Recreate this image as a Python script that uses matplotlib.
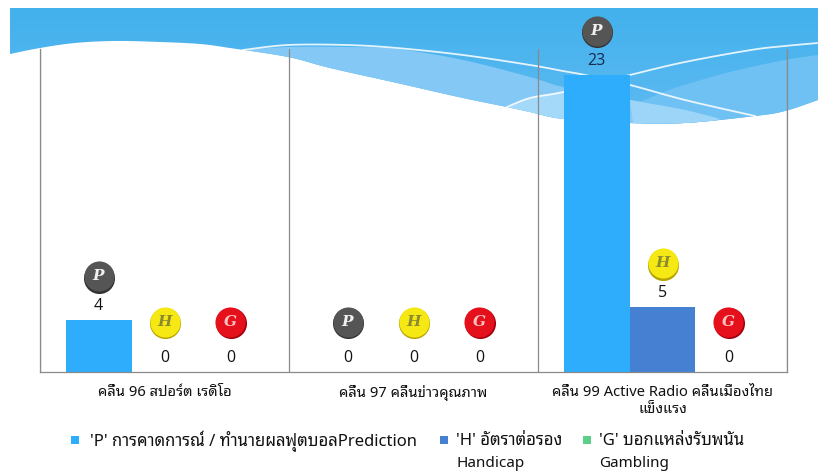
import matplotlib
matplotlib.use("Agg")
import matplotlib.pyplot as plt
import numpy as np
from matplotlib.patches import Polygon, Rectangle
from matplotlib.transforms import ScaledTranslation

plt.rcParams["font.family"] = ["Noto Sans Thai Looped", "Noto Sans Thai", "Noto Sans", "DejaVu Sans"]

W, H = 818, 473

stations = ["คลื่น 96 สปอร์ต เรดิโอ", "คลื่น 97 คลื่นข่าวคุณภาพ", "คลื่น 99 Active Radio คลื่นเมืองไทย\nแข็งแรง"]
p_values = [4, 0, 23]
h_values = [0, 0, 5]
g_values = [0, 0, 0]
series_colors = ["#2eadfc", "#4580d2", "#5dcf8a"]
badge_letters = ["P", "H", "G"]
badge_colors = ["#555555", "#f6e812", "#e5101c"]
badge_shadows = ["#333333", "#b5a400", "#a00010"]
letter_colors = ["#f0f0f0", "#8a8a30", "#ffc0c0"]

# wave background, in image pixels
wave_edge = [(10, 54), (40, 48), (75, 43), (115, 41), (160, 42), (200, 44), (230, 48), (288, 57), (330, 68),
             (397, 83), (463, 98), (507, 107), (530, 112), (563, 119), (628, 123), (685, 123), (755, 116),
             (785, 111), (818, 100)]
band_a = [(243, 50), (288, 47), (347, 47), (397, 49), (463, 60), (530, 77), (563, 87), (630, 100), (685, 108), (720, 119)]
band_b = [(507, 107), (530, 98), (563, 92), (600, 95), (630, 100)]
band_c = [(640, 102), (675, 88), (730, 72), (785, 60), (818, 55)]
band_d = [(630, 100), (685, 110), (720, 119)]
line_one = [(243, 50), (288, 45), (347, 45), (397, 48), (463, 55), (530, 65), (563, 71), (585, 75), (630, 85), (685, 100), (755, 116)]
line_two = [(507, 107), (530, 98), (563, 92), (630, 75), (685, 62), (751, 50), (785, 46), (818, 43)]


def smooth(pts, n=12):
    # catmull-rom through the points
    p = np.array([pts[0]] + list(pts) + [pts[-1]], dtype=float)
    out = []
    for i in range(1, len(p) - 2):
        for t in np.linspace(0, 1, n, endpoint=False):
            out.append(0.5 * (2 * p[i] + (p[i + 1] - p[i - 1]) * t
                              + (2 * p[i - 1] - 5 * p[i] + 4 * p[i + 1] - p[i + 2]) * t ** 2
                              + (3 * p[i] - p[i - 1] - 3 * p[i + 1] + p[i + 2]) * t ** 3))
    out.append(p[-2])
    return np.array(out)


fig = plt.figure(figsize=(W / 100, H / 100), dpi=100)

bg = fig.add_axes([0, 0, 1, 1], zorder=0)
bg.set_xlim(0, W)
bg.set_ylim(H, 0)
bg.axis("off")

edge = smooth(wave_edge)


def fill_band(upper, color):
    # area between an upper curve and the white wave below it
    up = smooth(upper)
    low = edge[(edge[:, 0] >= up[0, 0]) & (edge[:, 0] <= up[-1, 0])]
    bg.add_patch(Polygon(np.vstack([up, low[::-1]]), fc=color, ec="none"))


sky = Polygon(np.vstack([edge, [(818, 8), (10, 8)]]), fc="none", ec="none")
bg.add_patch(sky)
grad = np.linspace(0, 1, 64).reshape(-1, 1)
im = bg.imshow(grad, extent=(10, 818, 125, 8), aspect="auto", zorder=0,
               cmap=matplotlib.colors.LinearSegmentedColormap.from_list("sky", ["#42b1ec", "#5fbaf2"]))
im.set_clip_path(sky)
bg.set_xlim(0, W)
bg.set_ylim(H, 0)

fill_band(band_a, "#84c9f6")
fill_band(band_c, "#6fc1f4")
fill_band(band_b, "#a4d9f9")
fill_band(band_d, "#9cd5f8")
for pts in [line_one, line_two]:
    ln = smooth(pts)
    bg.plot(ln[:, 0], ln[:, 1], color="white", lw=1.3, alpha=0.85)

ax = fig.add_axes([40 / W, 1 - 372 / H, 747 / W, 323 / H], zorder=1)
ax.patch.set_alpha(0)
ax.set_xlim(0, 3)
ax.set_ylim(0, 25)

x = np.arange(len(stations))
width = 0.265
for i, values in enumerate([p_values, h_values, g_values]):
    pos = x + 0.5 + (i - 1) * width
    ax.bar(pos, values, width, color=series_colors[i], linewidth=0, zorder=2)
    for xp, v in zip(pos, values):
        base = ax.transData
        ax.annotate(str(v), (xp, v), xytext=(0, 14), textcoords="offset pixels", ha="center", va="center",
                    fontsize=11.5, color="#152a50" if v == 23 else "#111111", zorder=5,
                    fontfamily="Open Sans")
        off = 44 if v > 0 else 50
        shift = ScaledTranslation(0.8 / 100, (off - 1.2) / 100, fig.dpi_scale_trans)
        ax.scatter([xp], [v], s=500, color=badge_shadows[i], linewidths=0, transform=base + shift,
                   zorder=4, clip_on=False)
        shift = ScaledTranslation(0, off / 100, fig.dpi_scale_trans)
        ax.scatter([xp], [v], s=470, color=badge_colors[i], linewidths=0, transform=base + shift,
                   zorder=4, clip_on=False)
        ax.annotate(badge_letters[i], (xp, v), xytext=(0, off), textcoords="offset pixels", ha="center",
                    va="center", fontsize=11, color=letter_colors[i], family="DejaVu Serif", style="italic",
                    fontweight="bold", zorder=5)

ax.set_xticks(np.arange(0, 4))
ax.set_xticks(x + 0.5, minor=True)
ax.set_xticklabels([""] * 4)
ax.set_xticklabels(stations, minor=True, fontsize=10.6, color="#111111", linespacing=1.25)
ax.set_yticks([])
ax.tick_params(axis="x", which="both", length=0, pad=9)
ax.grid(True, axis="x", color="#8a8a8a", lw=0.9, zorder=1)
ax.set_axisbelow(True)
ax.spines["top"].set_visible(False)
for s in ["left", "right", "bottom"]:
    ax.spines[s].set_color("#8a8a8a")
    ax.spines[s].set_linewidth(0.9)

# legend, laid out by hand because the entries wrap
legend_labels = ["'P' การคาดการณ์ / ทำนายผลฟุตบอลPrediction", "'H' อัตราต่อรอง", "'G' บอกแหล่งรับพนัน"]
legend_second = ["", "Handicap", "Gambling"]
legend_squares = [75, 444, 587]
legend_text = [90, 456, 599]
for i in range(3):
    bg.add_patch(Rectangle((legend_squares[i] - 4, 436), 8, 8, fc=series_colors[i], ec="none"))
    bg.text(legend_text[i], 441, legend_labels[i], ha="left", va="center", fontsize=12, color="#111111")
    bg.text(legend_text[i], 463, legend_second[i], ha="left", va="center", fontsize=11, color="#111111")

fig.savefig("out.png", dpi=100)
